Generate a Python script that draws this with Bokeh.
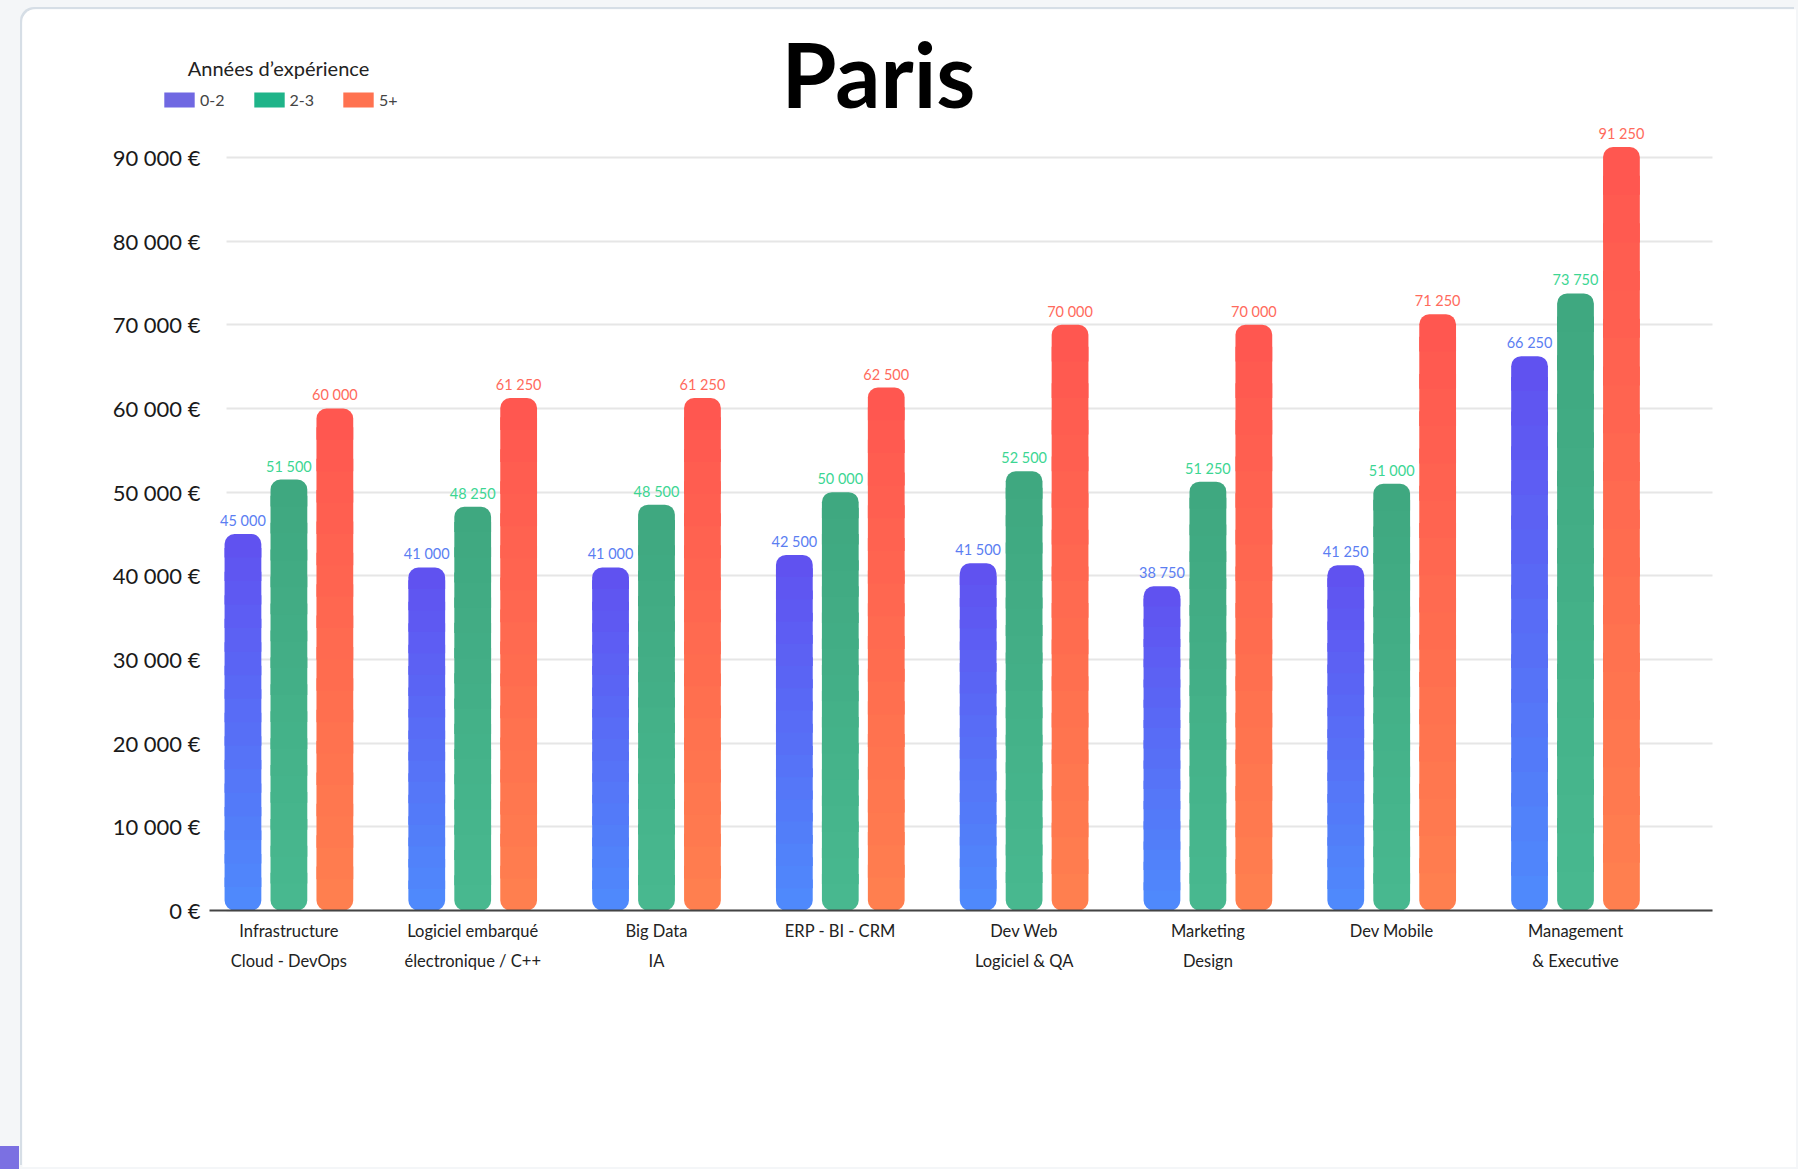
from bokeh.plotting import figure
from bokeh.models import Range1d, FixedTicker, Label, Legend, LegendItem, ColumnDataSource
from bokeh.embed import file_html
from bokeh.resources import INLINE
from bokeh.core.properties import value

# ---------------- data ----------------
categories = [
    "Infrastructure\nCloud - DevOps",
    "Logiciel embarqué\nélectronique / C++",
    "Big Data\nIA",
    "ERP - BI - CRM",
    "Dev Web\nLogiciel & QA",
    "Marketing\nDesign",
    "Dev Mobile",
    "Management\n& Executive",
]
series_names = ["0-2", "2-3", "5+"]
salary_0_2 = [45000, 41000, 41000, 42500, 41500, 38750, 41250, 66250]
salary_2_3 = [51500, 48250, 48500, 50000, 52500, 51250, 51000, 73750]
salary_5_plus = [60000, 61250, 61250, 62500, 70000, 70000, 71250, 91250]
y_ticks = [0, 10000, 20000, 30000, 40000, 50000, 60000, 70000, 80000, 90000]
y_tick_labels = ["0 €", "10 000 €", "20 000 €", "30 000 €", "40 000 €",
                 "50 000 €", "60 000 €", "70 000 €", "80 000 €", "90 000 €"]
title_text = "Paris"
legend_title = "Années d\u2019expérience"

# ---------------- styles ----------------
series = [salary_0_2, salary_2_3, salary_5_plus]
offsets = [-0.25, 0.0, 0.25]
grad = [("#4e8bfc", "#6150f0"), ("#48b98f", "#3fa780"), ("#ff804f", "#ff5650")]
label_colors = ["#5b7ef2", "#3cd693", "#ff6a5c"]
legend_colors = ["#7068e2", "#1fb489", "#ff7250"]
BAR_W = 0.2
K = 16
R = 10
FONT = "Lato"
AXIS_X = -0.432          # left end of the category axis
AXIS_END = 7.745         # right end of the category axis
GRID_START = -0.34
NAN = float("nan")

W, H = 1774, 1158
p = figure(width=W, height=H, output_backend="svg", toolbar_location=None, title=None,
           x_range=Range1d(-1.4494, 8.2024), y_range=Range1d(-30715, 107683),
           min_border=0, min_border_left=0, min_border_right=0,
           min_border_top=0, min_border_bottom=0)
p.background_fill_color = "white"
p.border_fill_color = "white"
p.outline_line_color = None
p.styles = {"margin-left": "22px", "margin-top": "9px", "border-radius": "14px 0 0 0",
            "box-shadow": "-2px -2px 0 0 #d6dee6", "overflow": "hidden"}


def hex2rgb(h):
    h = h.lstrip("#")
    return tuple(int(h[i:i + 2], 16) for i in (0, 2, 4))


def lerp(c1, c2, t):
    a, b = hex2rgb(c1), hex2rgb(c2)
    return "#%02x%02x%02x" % tuple(int(round(a[i] + (b[i] - a[i]) * t)) for i in range(3))


# grid lines (limited horizontally)
use_segments = False
try:
    p.ygrid.cross_bounds = (GRID_START, AXIS_END)
except Exception:
    use_segments = True
if use_segments:
    p.ygrid.grid_line_color = None
    p.segment(x0=[GRID_START] * len(y_ticks), x1=[AXIS_END] * len(y_ticks),
              y0=y_ticks, y1=y_ticks, line_color="#e6e6e6", line_width=2)
else:
    p.ygrid.grid_line_color = "#e6e6e6"
    p.ygrid.grid_line_width = 2
p.xgrid.grid_line_color = None

legend_items = []
for s, vals in enumerate(series):
    srcs = {"bottom": dict(x=[], b=[], t=[], c=[]),
            "mid": dict(x=[], b=[], t=[], c=[]),
            "top": dict(x=[], b=[], t=[], c=[])}
    for i, v in enumerate(vals):
        xc = i + offsets[s]
        step = v / K
        for k in range(K):
            col = lerp(grad[s][0], grad[s][1], (k + 0.5) / K)
            b = step * k
            t = step * (k + 1) + (0 if k == K - 1 else step * 0.4)
            key = "bottom" if k == 0 else ("top" if k == K - 1 else "mid")
            d = srcs[key]
            d["x"].append(xc); d["b"].append(b); d["t"].append(t); d["c"].append(col)
    p.vbar(x="x", bottom="b", top="t", width=BAR_W, fill_color="c", line_color=None,
           source=ColumnDataSource(srcs["bottom"]), border_radius=(0, 0, R, R))
    p.vbar(x="x", bottom="b", top="t", width=BAR_W, fill_color="c", line_color=None,
           source=ColumnDataSource(srcs["mid"]))
    p.vbar(x="x", bottom="b", top="t", width=BAR_W, fill_color="c", line_color=None,
           source=ColumnDataSource(srcs["top"]), border_radius=(R, R, 0, 0))

    lab = ColumnDataSource(dict(x=[i + offsets[s] for i in range(len(vals))], y=vals,
                                txt=[f"{v:,}".replace(",", " ") for v in vals]))
    p.text(x="x", y="y", text="txt", source=lab, text_align="center", text_baseline="bottom",
           y_offset=-5, text_font=value(FONT), text_font_size="14.5px", text_color=label_colors[s])

    # legend proxy (not drawn in the plot area: NaN position)
    proxy = p.vbar(x=[NAN], top=[NAN], width=BAR_W, fill_color=legend_colors[s], line_color=None)
    legend_items.append(LegendItem(label=series_names[s], renderers=[proxy]))

legend = Legend(items=legend_items, location=(138, 1058), orientation="horizontal",
                label_text_font=FONT, label_text_font_size="16px", label_text_color="#444444",
                glyph_width=38, glyph_height=19, label_standoff=2, spacing=25,
                padding=0, margin=0, background_fill_alpha=0, border_line_color=None,
                label_height=16)
p.add_layout(legend)

# legend title, centred above the legend items
p.add_layout(Label(x=256, y=1100, x_units="screen", y_units="screen", text=legend_title,
                   text_font=FONT, text_font_size="20px", text_color="#222222",
                   text_align="center", text_baseline="middle"))

p.add_layout(Label(x=856, y=1094, x_units="screen", y_units="screen", text=title_text,
                   text_font=FONT, text_font_style="bold", text_font_size="89px",
                   text_align="center", text_baseline="alphabetic", text_color="#000000"))

# axes drawn inside the frame at fixed locations
p.yaxis.fixed_location = AXIS_X
p.yaxis.ticker = FixedTicker(ticks=y_ticks)
p.yaxis.major_label_overrides = dict(zip(y_ticks, y_tick_labels))
p.yaxis.axis_line_color = None
p.yaxis.major_tick_line_color = None
p.yaxis.minor_tick_line_color = None
p.yaxis.major_label_text_font = FONT
p.yaxis.major_label_text_font_size = "22px"
p.yaxis.major_label_text_color = "#1a1a1a"
p.yaxis.major_label_text_align = "left"
p.yaxis.major_label_standoff = 3

x_ticks = list(range(len(categories)))
p.xaxis.fixed_location = 0
p.xaxis.bounds = (AXIS_X, AXIS_END)
p.xaxis.ticker = FixedTicker(ticks=x_ticks)
p.xaxis.major_label_overrides = dict(zip(x_ticks, categories))
p.xaxis.axis_line_color = "#444444"
p.xaxis.axis_line_width = 2
p.xaxis.major_tick_line_color = None
p.xaxis.minor_tick_line_color = None
p.xaxis.major_label_text_font = FONT
p.xaxis.major_label_text_font_size = "16.5px"
p.xaxis.major_label_text_color = "#222222"
p.xaxis.major_label_text_line_height = 1.5
p.xaxis.major_label_standoff = 4

css = ("<style>html { height: 100%; background: linear-gradient(#7b70e2, #7b70e2) "
       "no-repeat left bottom / 19px 23px, #f4f6f8; } body { background: transparent; }</style>")
html = file_html(p, INLINE)
html = html.replace("</head>", css + "</head>", 1)
open("out.html", "w").write(html)
